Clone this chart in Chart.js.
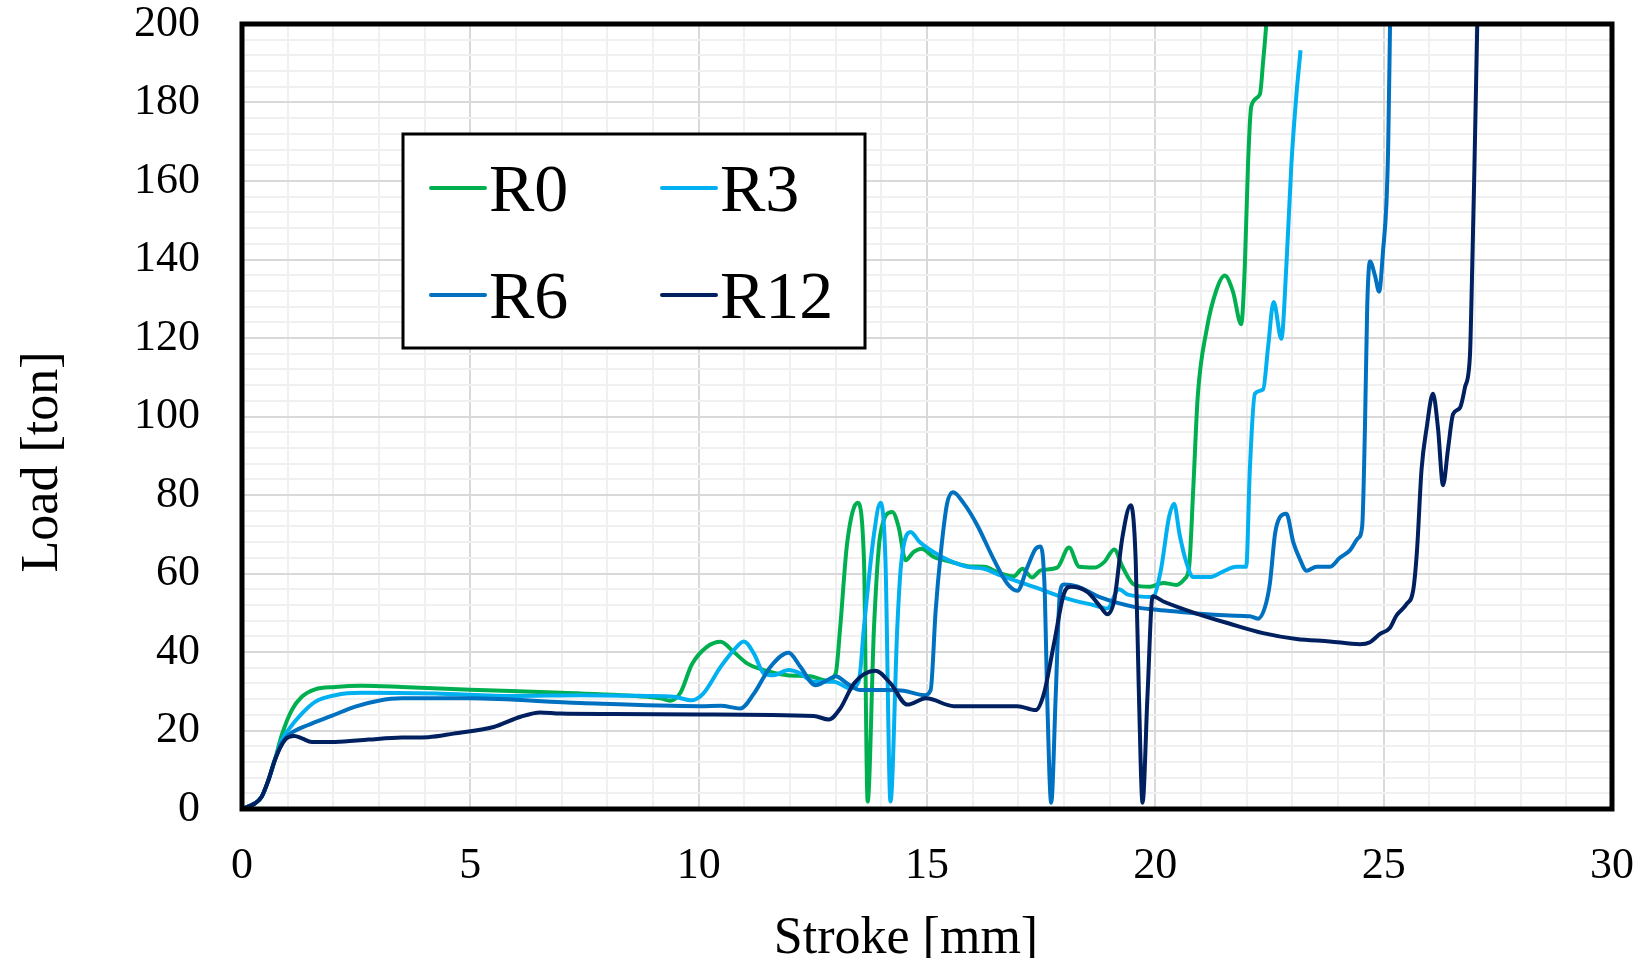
<!DOCTYPE html>
<html>
<head>
<meta charset="utf-8">
<title>Load vs Stroke</title>
<script src="https://cdn.jsdelivr.net/npm/chart.js@4.4.1/dist/chart.umd.min.js"></script>
<style>
  html, body { margin: 0; padding: 0; background: #fff; }
  canvas { display: block; }
</style>
</head>
<body>
<canvas id="chart" width="1642" height="958"></canvas>
<script>
// series names
var seriesNames = [ 'R0', 'R3', 'R6', 'R12' ];

// R0
var r0Stroke = [ 0, 0.28, 0.43, 0.58, 0.72, 0.87, 1.09, 1.31, 1.6, 2.04,
  2.62, 3.5, 5.0, 7.0, 8.87, 9.16, 9.38, 9.6, 9.85, 10.18,
  10.48, 10.77, 11.06, 11.43, 11.94, 12.45, 12.81, 13.0, 13.1, 13.25,
  13.48, 13.62, 13.7, 13.84, 13.98, 14.24, 14.38, 14.53, 14.71, 14.88,
  15.15, 15.52, 15.95, 16.25, 16.61, 16.9, 17.09, 17.3, 17.49, 17.85,
  18.11, 18.33, 18.66, 18.88, 19.1, 19.28, 19.53, 19.88, 20.17, 20.46,
  20.64, 20.74, 20.83, 20.93, 21.12, 21.34, 21.52, 21.7, 21.88, 21.96,
  22.03, 22.1, 22.29, 22.36, 22.43, 22.5 ];
var r0Load = [ 0, 1.4, 3.1, 7.4, 12.5, 18.8, 25.2, 28.6, 30.5, 31.1,
  31.4, 31.1, 30.4, 29.6, 28.6, 28.2, 27.6, 29.6, 36.8, 41.3,
  42.6, 40.0, 37.1, 35.4, 34.1, 33.8, 32.7, 34.5, 46.4, 67.6,
  78.0, 63.4, 1.9, 46.4, 70.1, 75.7, 71.8, 63.4, 65.5, 66.3,
  64.2, 63.0, 61.8, 61.7, 60.0, 59.3, 61.2, 59.0, 60.8, 61.5,
  66.6, 61.7, 61.5, 62.9, 66.1, 61.7, 57.2, 56.6, 57.6, 57.1,
  58.6, 61.7, 81.5, 105.3, 121.9, 132.3, 135.9, 131.8, 123.5, 138.5,
  164.4, 179, 182.1, 190.4, 200.2, 215 ];

// R3
var r3Stroke = [ 0, 0.28, 0.43, 0.58, 0.72, 0.87, 1.01, 1.31, 1.6, 2.04,
  2.62, 4.23, 5.95, 7.41, 8.87, 9.45, 9.85, 10.1, 10.48, 10.77,
  10.99, 11.21, 11.43, 11.64, 11.97, 12.23, 12.52, 12.96, 13.32, 13.51,
  13.62, 13.84, 13.98, 14.09, 14.2, 14.35, 14.43, 14.64, 14.84, 15.3,
  15.88, 16.25, 16.61, 17.34, 18.07, 18.66, 18.95, 19.2, 19.4, 19.94,
  20.12, 20.3, 20.41, 20.53, 20.68, 20.83, 21.19, 21.48, 21.77, 21.99,
  22.07, 22.18, 22.36, 22.47, 22.59, 22.76, 22.87, 22.98, 23.09, 23.18 ];
var r3Load = [ 0, 1.4, 3.1, 7.4, 12.5, 17.5, 20.1, 24.3, 27.3, 29.0,
  29.6, 29.4, 28.8, 29.0, 28.8, 28.6, 27.7, 29.4, 36.2, 40.5,
  42.7, 39.6, 34.5, 34.1, 35.4, 34.5, 32.4, 32.4, 30.7, 32.8,
  46.4, 70.1, 78.0, 63.4, 1.9, 46.4, 62.0, 70.6, 68.0, 64.4,
  61.7, 61.2, 59.5, 56.6, 53.6, 51.9, 51.1, 56.0, 54.6, 54.0,
  60.8, 74.4, 77.8, 70.0, 62.8, 59.1, 59.1, 60.5, 61.7, 61.7,
  86.6, 105.8, 106.9, 117.8, 129.2, 119.8, 138.5, 164.4, 182.1, 193.3 ];

// R6
var r6Stroke = [ 0, 0.28, 0.43, 0.58, 0.72, 0.87, 1.05, 1.45, 1.96, 2.48,
  2.99, 3.5, 4.96, 7.41, 10.04, 10.48, 10.91, 11.21, 11.57, 11.97,
  12.23, 12.56, 12.81, 13.0, 13.25, 13.54, 14.13, 14.49, 14.95, 15.08,
  15.19, 15.3, 15.44, 15.57, 15.81, 16.1, 16.47, 16.76, 16.98, 17.2,
  17.38, 17.49, 17.58, 17.63, 17.72, 17.82, 17.91, 18.0, 18.29, 18.8,
  19.53, 19.97, 20.56, 20.9, 21.63, 22.07, 22.25, 22.4, 22.51, 22.62,
  22.72, 22.87, 23.02, 23.16, 23.31, 23.53, 23.82, 24.04, 24.26, 24.44,
  24.53, 24.59, 24.64, 24.7, 24.81, 24.9, 24.99, 25.06, 25.1, 25.14,
  25.16 ];
var r6Load = [ 0, 1.4, 3.1, 7.4, 12.5, 16.8, 19.1, 21.4, 23.7, 26.1,
  27.6, 28.2, 28.2, 27.0, 26.2, 26.3, 25.6, 29.4, 36.2, 39.8,
  36.2, 31.5, 32.8, 33.8, 32.0, 30.3, 30.3, 30.1, 29.0, 30.3,
  50.6, 65.0, 77.8, 80.7, 77.8, 72.3, 63.4, 57.4, 55.6, 61.7,
  66.3, 66.9, 54.9, 29.4, 1.6, 29.4, 54.9, 57.2, 56.7, 53.9,
  51.5, 50.8, 50.2, 49.8, 49.3, 49.1, 48.5, 51.4, 57.6, 70.0,
  74.2, 75.2, 68.0, 63.8, 60.7, 61.7, 61.7, 64.0, 65.9, 69.0,
  72.1, 97.0, 128.1, 139.5, 135.9, 131.8, 142.7, 154.1, 169.6, 200.2,
  215 ];

// R12
var r12Stroke = [ 0, 0.28, 0.43, 0.58, 0.72, 0.94, 1.15, 1.31, 1.53, 2.04,
  2.77, 3.5, 4.08, 4.63, 5.51, 6.1, 6.53, 6.97, 8.14, 10.04,
  12.52, 12.85, 13.1, 13.4, 13.87, 14.2, 14.57, 14.98, 15.59, 16.98,
  17.38, 17.56, 17.78, 18.0, 18.15, 18.51, 18.8, 18.95, 19.1, 19.28,
  19.46, 19.57, 19.64, 19.72, 19.83, 19.94, 20.19, 20.9, 21.63, 22.36,
  23.09, 23.82, 24.48, 24.7, 24.92, 25.14, 25.28, 25.5, 25.65, 25.73,
  25.83, 25.94, 26.08, 26.19, 26.3, 26.41, 26.52, 26.67, 26.78, 26.89,
  26.92, 26.98, 27.05, 27.07 ];
var r12Load = [ 0, 1.4, 3.1, 7.4, 12.5, 17.6, 18.6, 18.0, 17.1, 17.1,
  17.7, 18.2, 18.3, 19.2, 20.9, 23.5, 24.6, 24.3, 24.2, 24.1,
  23.7, 22.8, 25.6, 32.0, 35.2, 32.0, 26.6, 28.2, 26.2, 26.2,
  25.2, 29.4, 42.1, 54.9, 56.6, 55.3, 51.5, 49.6, 53.2, 69.3,
  77.4, 63.4, 29.4, 1.6, 29.4, 54.2, 52.8, 49.8, 47.2, 44.8,
  43.3, 42.7, 42.0, 42.5, 44.6, 46.2, 49.3, 52.2, 56.0, 65.9,
  86.6, 97.0, 105.8, 97.0, 82.5, 91.8, 100.6, 102.2, 107.4, 115.7,
  128.1, 159.3, 200.2, 215 ];

// labelled ticks
var xTickLabels = [ 0, 5, 10, 15, 20, 25, 30 ];
var yTickLabels = [ 0, 20, 40, 60, 80, 100, 120, 140, 160, 180, 200 ];

var xTitle = 'Stroke [mm]';
var yTitle = 'Load [ton]';

var FONT = "'Liberation Serif', 'Times New Roman', serif";
var colors = [ '#00b050', '#00b0f0', '#0070c0', '#002060' ];

function toPoints( xs, ys ) {
  return xs.map( function( x, i ) {
    return { x: x, y: ys[ i ] };
  });
}

var seriesData = [
  toPoints( r0Stroke, r0Load ),
  toPoints( r3Stroke, r3Load ),
  toPoints( r6Stroke, r6Load ),
  toPoints( r12Stroke, r12Load )
];

// frame, legend box and axis titles
var decorations = {
  id: 'decorations',
  afterDraw: function( chart ) {
    var ctx = chart.ctx;
    var area = chart.chartArea;
    ctx.save();

    ctx.strokeStyle = '#000';
    ctx.lineWidth = 5;
    ctx.strokeRect( area.left, area.top, area.right - area.left, area.bottom - area.top );

    var bx = area.left + 161;
    var by = area.top + 110;
    ctx.fillStyle = '#fff';
    ctx.fillRect( bx, by, 462, 214 );
    ctx.lineWidth = 3;
    ctx.strokeRect( bx, by, 462, 214 );

    ctx.font = '68px ' + FONT;
    ctx.textAlign = 'left';
    ctx.textBaseline = 'alphabetic';
    chart.data.datasets.forEach( function( ds, i ) {
      var lx = bx + 28 + ( i % 2 ) * 231;
      var ly = by + 54 + Math.floor( i / 2 ) * 107;
      ctx.strokeStyle = ds.borderColor;
      ctx.lineWidth = 4;
      ctx.lineCap = 'round';
      ctx.beginPath();
      ctx.moveTo( lx, ly );
      ctx.lineTo( lx + 54, ly );
      ctx.stroke();
      ctx.fillStyle = '#000';
      ctx.fillText( ds.label, lx + 58, ly + 23 );
    });

    ctx.font = '52px ' + FONT;
    ctx.fillStyle = '#000';
    ctx.textAlign = 'center';
    ctx.fillText( xTitle, area.left + 664, area.bottom + 144 );

    ctx.translate( 57, area.top + 438 );
    ctx.rotate( -Math.PI / 2 );
    ctx.fillText( yTitle, 0, 0 );

    ctx.restore();
  }
};

var datasets = seriesNames.map( function( name, i ) {
  return {
    label: name,
    data: seriesData[ i ],
    borderColor: colors[ i ],
    backgroundColor: colors[ i ],
    borderWidth: 4,
    pointRadius: 0,
    fill: false,
    cubicInterpolationMode: 'monotone',
    order: seriesNames.length - 1 - i
  };
});

var tickFont = { family: FONT, size: 44, lineHeight: 1.2 };

new Chart( document.getElementById( 'chart' ), {
  type: 'line',
  data: { datasets: datasets },
  options: {
    responsive: false,
    animation: false,
    layout: { padding: { top: 24, right: 30, left: 0, bottom: 0 } },
    plugins: {
      legend: { display: false },
      tooltip: { enabled: false }
    },
    scales: {
      x: {
        type: 'linear',
        min: 0,
        max: 30,
        border: { display: false },
        grid: {
          drawTicks: false,
          lineWidth: 2,
          color: function( c ) {
            return xTickLabels.indexOf( c.tick.value ) >= 0 ? '#d9d9d9' : '#f0f0f0';
          }
        },
        ticks: {
          stepSize: 1,
          autoSkip: false,
          maxRotation: 0,
          padding: 31,
          color: '#000',
          font: tickFont,
          callback: function( value ) {
            return xTickLabels.indexOf( value ) >= 0 ? String( value ) : '';
          }
        },
        afterFit: function( scale ) {
          scale.height = 149;
          scale.paddingLeft = 0;
          scale.paddingRight = 0;
        }
      },
      y: {
        min: 0,
        max: 200,
        border: { display: false },
        grid: {
          drawTicks: false,
          lineWidth: 2,
          color: function( c ) {
            return yTickLabels.indexOf( c.tick.value ) >= 0 ? '#d9d9d9' : '#f0f0f0';
          }
        },
        ticks: {
          stepSize: 4,
          autoSkip: false,
          padding: 42,
          color: '#000',
          font: tickFont,
          callback: function( value ) {
            return yTickLabels.indexOf( value ) >= 0 ? String( value ) : '';
          }
        },
        afterFit: function( scale ) {
          scale.width = 242;
          scale.paddingTop = 0;
          scale.paddingBottom = 0;
        }
      }
    }
  },
  plugins: [ decorations ]
});
</script>
</body>
</html>
